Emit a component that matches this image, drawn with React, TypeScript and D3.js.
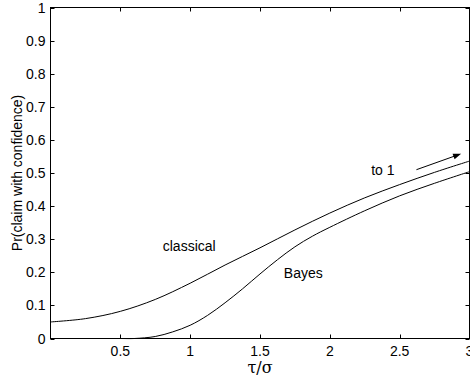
import React, { useRef, useEffect } from "react";
import * as d3 from "d3";

// values
const tauSigma = [0, 0.25, 0.5, 0.75, 1, 1.25, 1.5, 1.75, 2, 2.25, 2.5, 2.75, 3];
const classical = [0.05, 0.06, 0.082, 0.118, 0.167, 0.222, 0.274, 0.328, 0.379, 0.425, 0.465, 0.502, 0.536];
const bayesX = [0, 0.25, 0.5, 0.6, 0.75, 0.875, 1, 1.125, 1.25, 1.375, 1.5, 1.625, 1.75, 1.875, 2, 2.25, 2.5, 2.75, 3];
const bayes = [0, 0, 0, 0, 0.006, 0.02, 0.04, 0.07, 0.108, 0.15, 0.195, 0.238, 0.277, 0.309, 0.336, 0.386, 0.431, 0.469, 0.504];
const xTicks = [0.5, 1, 1.5, 2, 2.5, 3];
const yTicks = [0, 0.1, 0.2, 0.3, 0.4, 0.5, 0.6, 0.7, 0.8, 0.9, 1];

const App = () => {
    const svgRef = useRef<SVGSVGElement | null>(null);

    useEffect(() => {
        const svg = d3.select(svgRef.current);
        svg.selectAll("*").remove();

        const left = 50.5, right = 469.5, top = 7.5, bottom = 338.5;
        const x = d3.scaleLinear().domain([0, 3]).range([left, right]);
        const y = d3.scaleLinear().domain([0, 1]).range([bottom, top]);
        const font = "Liberation Sans, Arial, sans-serif";

        // box
        svg.append("rect")
            .attr("x", left).attr("y", top)
            .attr("width", right - left).attr("height", bottom - top)
            .attr("fill", "none").attr("stroke", "#000").attr("stroke-width", 1);

        const tl = 4;
        // x ticks (bottom + top, inward)
        xTicks.forEach(t => {
            const px = Math.round(x(t)) + 0.5;
            svg.append("line").attr("x1", px).attr("x2", px).attr("y1", bottom).attr("y2", bottom - tl).attr("stroke", "#000");
            svg.append("line").attr("x1", px).attr("x2", px).attr("y1", top).attr("y2", top + tl).attr("stroke", "#000");
            svg.append("text")
                .attr("x", x(t)).attr("y", bottom + 17)
                .attr("text-anchor", "middle")
                .style("font-family", font).style("font-size", "14px")
                .text(d3.format("~g")(t));
        });

        // y ticks (left + right, inward)
        yTicks.forEach(t => {
            const py = Math.round(y(t)) + 0.5;
            svg.append("line").attr("x1", left).attr("x2", left + tl).attr("y1", py).attr("y2", py).attr("stroke", "#000");
            svg.append("line").attr("x1", right).attr("x2", right - tl).attr("y1", py).attr("y2", py).attr("stroke", "#000");
            svg.append("text")
                .attr("x", left - 5).attr("y", y(t) + 5)
                .attr("text-anchor", "end")
                .style("font-family", font).style("font-size", "14px")
                .text(d3.format("~g")(t));
        });

        const line = d3.line<number>()
            .curve(d3.curveCatmullRom.alpha(0.5));

        svg.append("path")
            .attr("d", line.x((d, i) => x(tauSigma[i])).y(d => y(d))(classical))
            .attr("fill", "none").attr("stroke", "#000").attr("stroke-width", 1);

        svg.append("path")
            .attr("d", line.x((d, i) => x(bayesX[i])).y(d => y(d))(bayes))
            .attr("fill", "none").attr("stroke", "#000").attr("stroke-width", 1);

        // labels
        svg.append("text").attr("x", x(0.993)).attr("y", y(0.263))
            .attr("text-anchor", "middle")
            .style("font-family", font).style("font-size", "14px")
            .text("classical");
        svg.append("text").attr("x", x(1.81)).attr("y", y(0.182))
            .attr("text-anchor", "middle")
            .style("font-family", font).style("font-size", "14px")
            .text("Bayes");
        svg.append("text").attr("x", x(2.38)).attr("y", y(0.493))
            .attr("text-anchor", "middle")
            .style("font-family", font).style("font-size", "14px")
            .text("to 1");

        // arrow
        const ax1 = x(2.62), ay1 = y(0.51), ax2 = x(2.94), ay2 = y(0.558);
        svg.append("line")
            .attr("x1", ax1).attr("y1", ay1).attr("x2", ax2 - 4).attr("y2", ay2 + 1.4)
            .attr("stroke", "#000").attr("stroke-width", 1);
        const ang = Math.atan2(ay2 - ay1, ax2 - ax1);
        const hl = 8, hw = 3;
        const bx = ax2 - hl * Math.cos(ang), by = ay2 - hl * Math.sin(ang);
        const nx = -Math.sin(ang) * hw, ny = Math.cos(ang) * hw;
        svg.append("path")
            .attr("d", `M${ax2},${ay2}L${bx + nx},${by + ny}L${bx - nx},${by - ny}Z`)
            .attr("fill", "#000");

        // axis titles
        svg.append("text")
            .attr("x", x(1.5)).attr("y", 373)
            .attr("text-anchor", "middle")
            .style("font-family", "DejaVu Serif, serif").style("font-size", "16px")
            .text("τ/σ");
        svg.append("text")
            .attr("transform", `translate(22,${(top + bottom) / 2}) rotate(-90)`)
            .attr("text-anchor", "middle")
            .style("font-family", font).style("font-size", "14px")
            .text("Pr(claim with confidence)");
    }, []);

    return (
        <svg ref={svgRef} width={470} height={377}
            style={{ position: "absolute", left: 0, top: 0, background: "#fff" }} />
    );
};

export default App;
